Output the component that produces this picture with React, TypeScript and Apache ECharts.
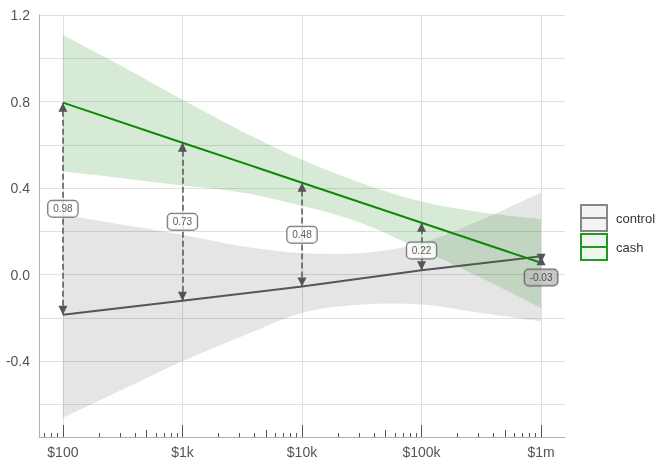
import React, { useEffect, useRef } from 'react';
import * as echarts from 'echarts';

// ---- data ----
const amounts = [100, 1000, 10000, 100000, 1000000];
const xTickLabels = ['$100', '$1k', '$10k', '$100k', '$1m'];
const cashValues = [0.795, 0.61, 0.425, 0.24, 0.055];
const controlValues = [-0.185, -0.12, -0.055, 0.02, 0.085];
const diffLabels = ['0.98', '0.73', '0.48', '0.22', '-0.03'];

const bandAmounts = [100, 316, 1000, 3162, 10000, 31623, 100000, 316228, 1000000];
const cashUpper = [1.108, 0.962, 0.808, 0.662, 0.531, 0.423, 0.338, 0.288, 0.257];
const cashLower = [0.477, 0.446, 0.412, 0.38, 0.318, 0.238, 0.115, -0.015, -0.154];
const controlUpper = [0.277, 0.231, 0.185, 0.131, 0.1, 0.1, 0.146, 0.254, 0.38];
const controlLower = [-0.662, -0.531, -0.4, -0.285, -0.177, -0.138, -0.138, -0.177, -0.215];

const yTickValues = [-0.4, 0, 0.4, 0.8, 1.2];
const yGridValues = [-0.6, -0.4, -0.2, 0, 0.2, 0.4, 0.6, 0.8, 1.0, 1.2];
const minorTickAmounts = [70, 80, 90, 200, 300, 400, 600, 700, 800, 900, 2000, 3000, 4000, 6000, 7000, 8000, 9000,
  20000, 30000, 40000, 60000, 70000, 80000, 90000, 200000, 300000, 400000, 600000, 700000, 800000, 900000];
const midTickAmounts = [500, 5000, 50000, 500000];

const FONT = "'Liberation Sans', Arial, sans-serif";

// smooth path (Catmull-Rom → cubic bezier) through pixel points
function smoothSegments(pts: number[][]): string {
  let d = '';
  for (let i = 0; i < pts.length - 1; i++) {
    const p0 = pts[Math.max(0, i - 1)];
    const p1 = pts[i];
    const p2 = pts[i + 1];
    const p3 = pts[Math.min(pts.length - 1, i + 2)];
    const c1x = p1[0] + (p2[0] - p0[0]) / 6;
    const c1y = p1[1] + (p2[1] - p0[1]) / 6;
    const c2x = p2[0] - (p3[0] - p1[0]) / 6;
    const c2y = p2[1] - (p3[1] - p1[1]) / 6;
    d += ` C${c1x},${c1y} ${c2x},${c2y} ${p2[0]},${p2[1]}`;
  }
  return d;
}

export default function App() {
  const ref = useRef<HTMLDivElement>(null);
  useEffect(() => {
    const chart = echarts.init(ref.current!, null, { renderer: 'svg' });
    const lg = (v: number) => Math.log10(v);
    const xMin = 1.8;
    const xMax = 6.2;

    const baseX = (extra: any) => ({
      type: 'value',
      min: xMin,
      max: xMax,
      position: 'bottom',
      gridIndex: 0,
      splitLine: { show: false },
      ...extra,
    });

    const iconPath = 'path://M1,1L25,1L25,25L1,25Z M1,13L25,13';

    const bandSeries = (name: string, upper: number[], lower: number[], fill: string) => ({
      name,
      type: 'custom',
      silent: true,
      clip: true,
      z: 2,
      encode: { x: 0, y: 1 },
      data: [[lg(bandAmounts[0]), lower[0]]],
      renderItem: (_params: any, api: any) => {
        const top = bandAmounts.map((a, i) => api.coord([lg(a), upper[i]]));
        const bottom = bandAmounts.map((a, i) => api.coord([lg(a), lower[i]])).reverse();
        const d = `M${top[0][0]},${top[0][1]}` + smoothSegments(top) +
          ` L${bottom[0][0]},${bottom[0][1]}` + smoothSegments(bottom) + ' Z';
        return {
          type: 'path',
          shape: { pathData: d },
          style: { fill },
          silent: true,
        };
      },
    });

    const option: any = {
      animation: false,
      textStyle: { fontFamily: FONT },
      grid: { left: 39, top: 15, right: 94, bottom: 25, containLabel: false },
      legend: {
        orient: 'vertical',
        left: 580,
        top: 204,
        padding: 0,
        itemWidth: 26,
        itemHeight: 26,
        itemGap: 1,
        selectedMode: false,
        textStyle: { fontSize: 13, color: '#333', fontFamily: FONT, padding: [0, 0, 0, 4] },
        data: [
          { name: 'control', icon: iconPath, itemStyle: { color: '#f3f3f3', borderColor: '#888888', borderWidth: 2 } },
          { name: 'cash', icon: iconPath, itemStyle: { color: '#eef6ee', borderColor: '#1f9a1f', borderWidth: 2 } },
        ],
      },
      xAxis: [
        baseX({
          z: 6,
          axisLine: { show: true, onZero: false, lineStyle: { color: '#b0b0b0', width: 1 } },
          axisTick: {
            show: true, inside: true, length: 12,
            customValues: amounts.map(lg),
            lineStyle: { color: '#555', width: 1 },
          },
          axisLabel: {
            show: true, fontSize: 14, color: '#555', margin: 8,
            customValues: amounts.map(lg),
            formatter: (v: number) => {
              const i = amounts.findIndex((a) => Math.abs(lg(a) - v) < 1e-6);
              return i >= 0 ? xTickLabels[i] : '';
            },
          },
        }),
        baseX({
          z: 6,
          axisLine: { show: false, onZero: false },
          axisTick: {
            show: true, inside: true, length: 4,
            customValues: minorTickAmounts.map(lg),
            lineStyle: { color: '#555', width: 1 },
          },
          axisLabel: { show: false },
        }),
        baseX({
          z: 6,
          axisLine: { show: false, onZero: false },
          axisTick: {
            show: true, inside: true, length: 7,
            customValues: midTickAmounts.map(lg),
            lineStyle: { color: '#555', width: 1 },
          },
          axisLabel: { show: false },
        }),
      ],
      yAxis: {
        type: 'value',
        min: -0.75,
        max: 1.2,
        z: 6,
        splitLine: { show: false },
        axisLine: { show: true, onZero: false, lineStyle: { color: '#b0b0b0', width: 1 } },
        axisTick: { show: false },
        axisLabel: {
          show: true, fontSize: 14, color: '#555', margin: 9,
          customValues: yTickValues,
          formatter: (v: number) => v.toFixed(1),
        },
      },
      series: [
        {
          name: 'grid',
          type: 'line',
          symbol: 'none',
          silent: true,
          z: 1,
          lineStyle: { width: 0, opacity: 0 },
          data: [],
          markLine: {
            z: 1,
            silent: true,
            symbol: ['none', 'none'],
            label: { show: false },
            lineStyle: { color: '#e0e0e0', width: 1, type: 'solid' },
            data: [
              ...amounts.map((a) => ({ xAxis: lg(a) })),
              ...yGridValues.map((v) => ({ yAxis: v })),
            ],
          },
        },
        bandSeries('controlBand', controlUpper, controlLower, 'rgba(0,0,0,0.1)'),
        bandSeries('cashBand', cashUpper, cashLower, 'rgba(0,125,0,0.16)'),
        {
          name: 'control',
          type: 'line',
          symbol: 'none',
          z: 3,
          color: '#555555',
          lineStyle: { color: '#555555', width: 2 },
          data: amounts.map((a, i) => [lg(a), controlValues[i]]),
        },
        {
          name: 'cash',
          type: 'line',
          symbol: 'none',
          z: 3,
          color: '#0a8a0a',
          lineStyle: { color: '#0a8a0a', width: 2 },
          data: amounts.map((a, i) => [lg(a), cashValues[i]]),
          markLine: {
            z: 4,
            silent: true,
            symbol: ['triangle', 'triangle'],
            symbolSize: [9, 9],
            symbolOffset: [[0, '50%'], [0, '50%']],
            label: { show: false },
            lineStyle: { color: '#555', width: 1.5, type: [6, 3] },
            itemStyle: { color: '#444' },
            data: amounts.map((a, i) => [
              { coord: [lg(a), controlValues[i]] },
              { coord: [lg(a), cashValues[i]] },
            ]),
          },
        },
        {
          name: 'diffLabels',
          type: 'scatter',
          z: 5,
          silent: true,
          symbolSize: 1,
          itemStyle: { color: 'transparent' },
          data: amounts.map((a, i) => {
            const last = i === amounts.length - 1;
            const dy = last ? 18 : i === 3 ? 4 : 0;
            return {
              value: [lg(a), (cashValues[i] + controlValues[i]) / 2],
              label: {
                show: true,
                position: 'inside',
                offset: [0, dy],
                formatter: diffLabels[i],
                fontSize: 10,
                color: '#333',
                fontFamily: FONT,
                backgroundColor: last ? '#bdbdbd' : '#ffffff',
                borderColor: '#444',
                borderWidth: 1,
                borderRadius: 4,
                padding: [3, 5, 3, 5],
              },
            };
          }),
        },
      ],
    };
    chart.setOption(option);
    return () => chart.dispose();
  }, []);
  return <div ref={ref} style={{ position: 'fixed', left: 0, top: 0, width: 659, height: 462 }} />;
}
